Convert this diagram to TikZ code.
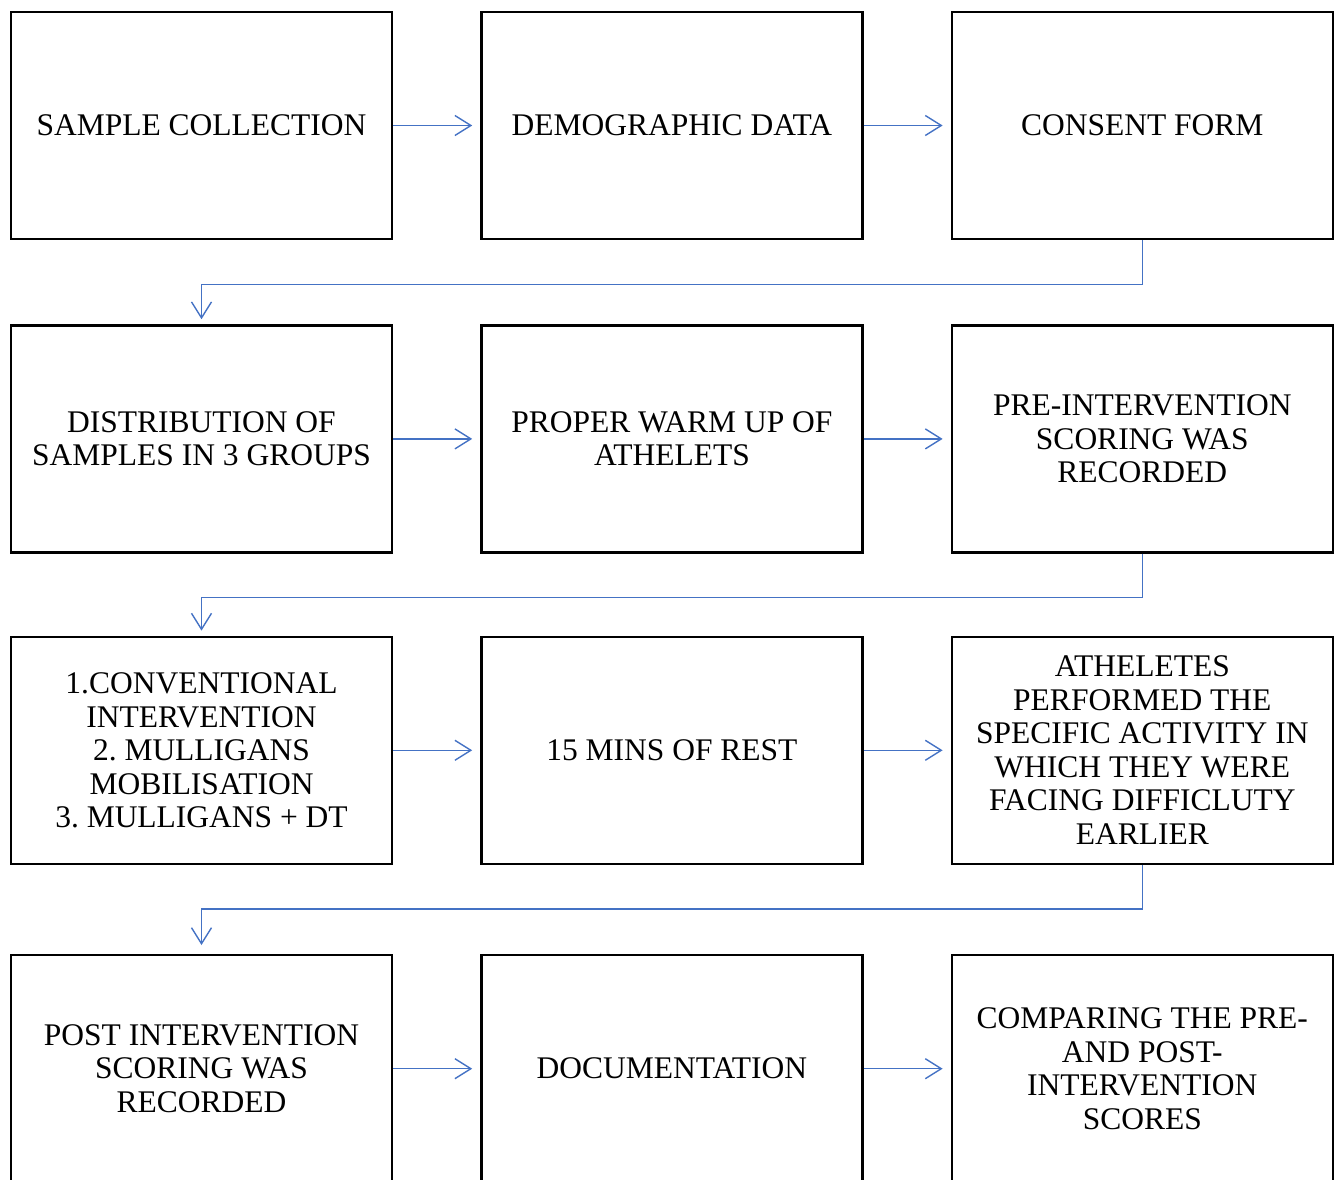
\documentclass[tikz,border=0pt]{standalone}
\usepackage{fontspec}
\setmainfont{Liberation Serif}
\usepackage{tikz}
\usetikzlibrary{arrows.meta, positioning}
\definecolor{flowblue}{RGB}{68,114,196}
\frenchspacing

\begin{document}
\begin{tikzpicture} [
    every node/.style={draw, shape=rectangle, line width=2.4pt, minimum width=381pt, minimum height=227pt, inner sep=2pt, align=center, font=\fontsize{31.5pt}{33.5pt}\selectfont},
    every edge/.style={draw, flowblue, line width=1.4pt, -{Straight Barb[length=16pt, width=20pt]}, shorten >=8pt},
    turn edge/.style={shorten >=5pt, to path={-- ++(0,-44pt) -| (\tikztotarget)}}
  ]

  \useasboundingbox (0,0) rectangle (1342pt,-1180pt);

  % Nodes and Positions
  % ROW 1
  \node (SAMPLE) at (201.5pt,-125.5pt) {SAMPLE COLLECTION};
  \node (DEMOG) [right=87pt of SAMPLE] {DEMOGRAPHIC DATA};
  \node (CONSENT) [right=87pt of DEMOG] {CONSENT FORM};

  % ROW 2
  \node (DISTRIB) [below=84pt of SAMPLE] {DISTRIBUTION OF\\SAMPLES IN 3 GROUPS};
  \node (WARMUP) [right=87pt of DISTRIB] {PROPER WARM UP OF\\ATHELETS};
  \node (PRESCORE) [right=87pt of WARMUP] {PRE-INTERVENTION\\SCORING WAS\\RECORDED};

  % ROW 3
  \node (GROUPS) [below=82pt of DISTRIB] {1.CONVENTIONAL\\INTERVENTION\\2. MULLIGANS\\MOBILISATION\\3. MULLIGANS + DT};
  \node (REST) [right=87pt of GROUPS] {15 MINS OF REST};
  \node (ACTIVITY) [right=87pt of REST] {ATHELETES\\PERFORMED THE\\SPECIFIC ACTIVITY IN\\WHICH THEY WERE\\FACING DIFFICLUTY\\EARLIER};

  % ROW 4
  \node (POSTSCORE) [below=89pt of GROUPS] {POST INTERVENTION\\SCORING WAS\\RECORDED};
  \node (DOCS) [right=87pt of POSTSCORE] {DOCUMENTATION};
  \node (COMPARE) [right=87pt of DOCS] {COMPARING THE PRE-\\AND POST-\\INTERVENTION\\SCORES};

  % Edges
  \path (SAMPLE) edge (DEMOG);
  \path (DEMOG) edge (CONSENT);
  \path (CONSENT.south) edge[turn edge] (DISTRIB.north);

  \path (DISTRIB) edge (WARMUP);
  \path (WARMUP) edge (PRESCORE);
  \path (PRESCORE.south) edge[turn edge] (GROUPS.north);

  \path (GROUPS) edge (REST);
  \path (REST) edge (ACTIVITY);
  \path (ACTIVITY.south) edge[turn edge, shorten >=9pt] (POSTSCORE.north);

  \path (POSTSCORE) edge (DOCS);
  \path (DOCS) edge (COMPARE);

\end{tikzpicture}
\end{document}
